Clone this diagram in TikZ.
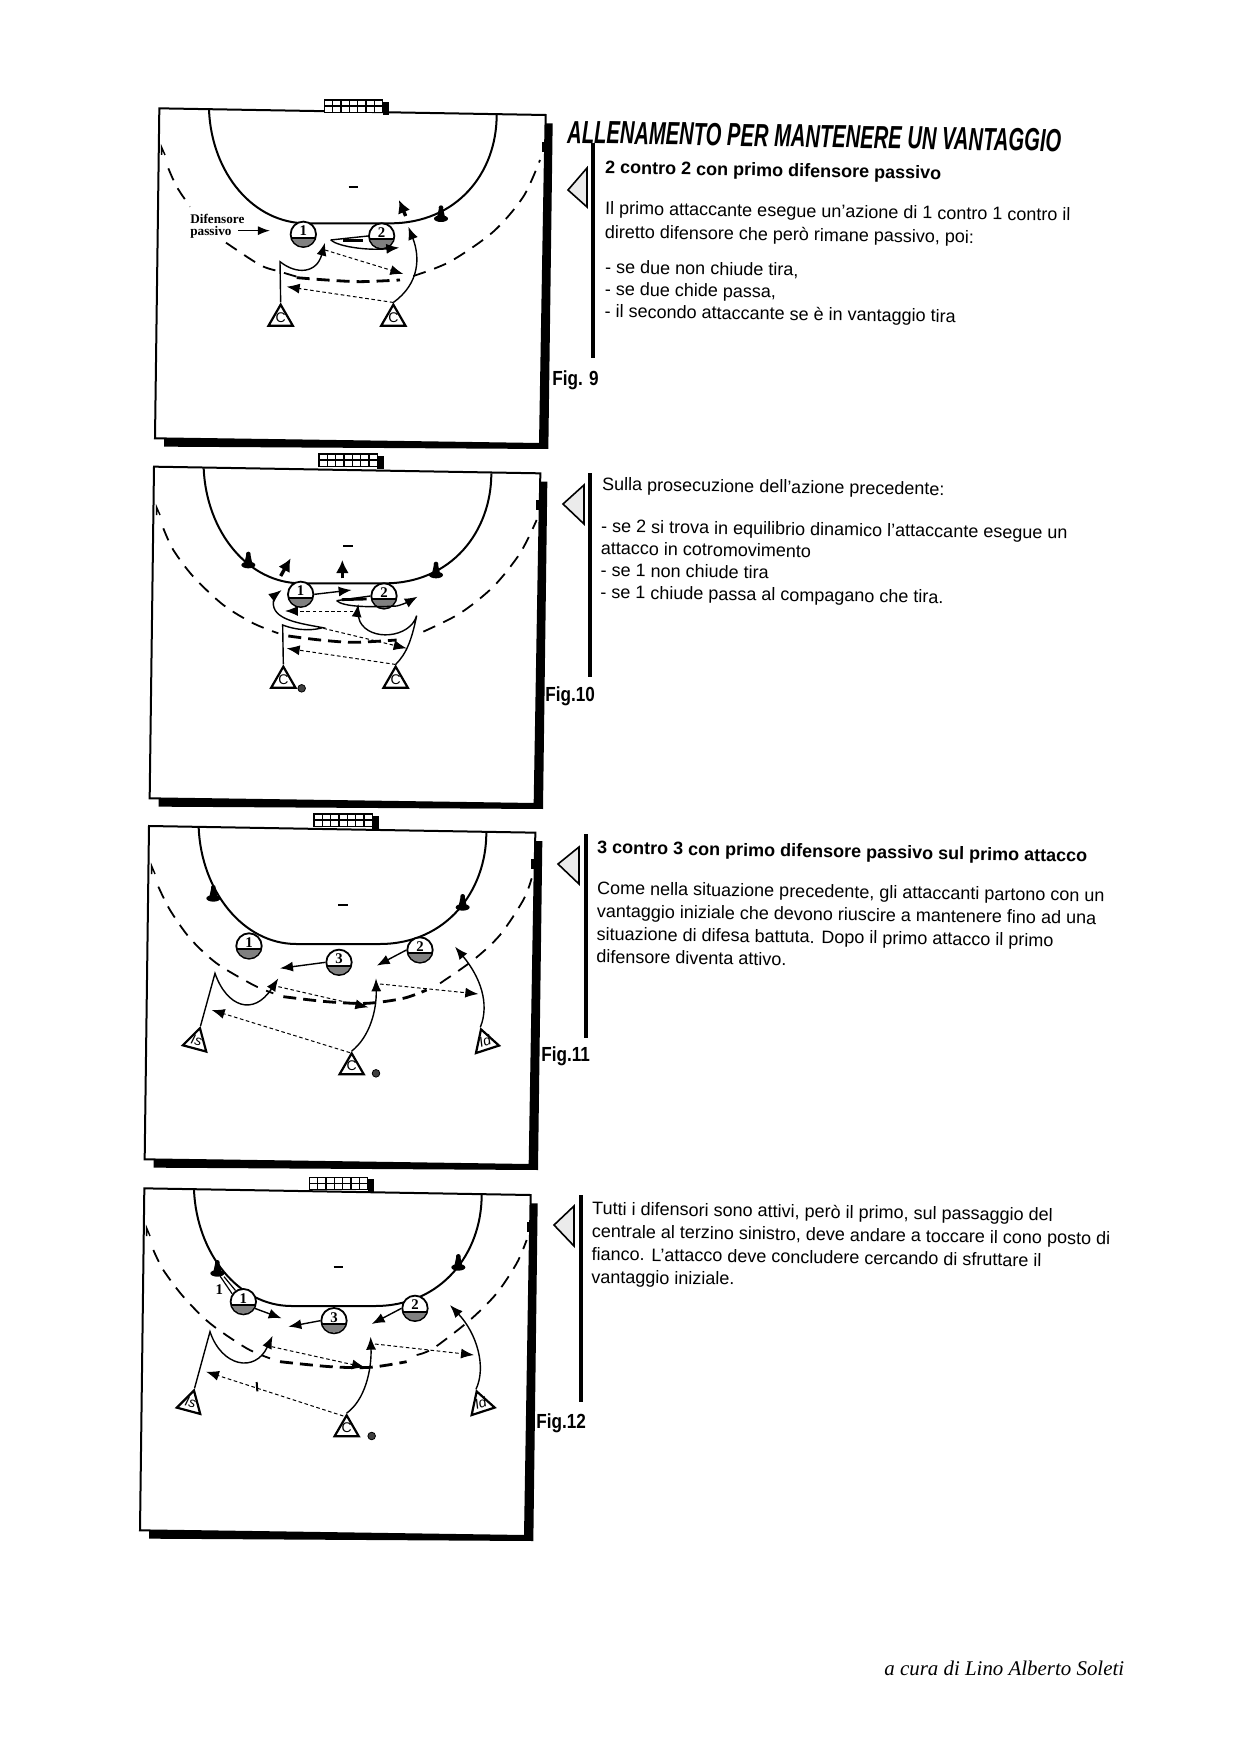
\documentclass[tikz,border=0pt]{standalone}
\usepackage{fontspec}
\setmainfont{Liberation Sans}
\newfontfamily\serifx{Liberation Serif}
\newfontfamily\titlefont[FakeStretch=0.63]{Liberation Sans}
\newfontfamily\figfont[FakeStretch=0.84]{Liberation Sans}
\usetikzlibrary{arrows.meta,shapes.geometric}
\tikzset{
  court/.style={draw=black,line width=1pt,fill=white},
  arcline/.style={draw=black,line width=1pt},
  arr/.style={-{Latex[length=6.5pt,width=5pt]},line width=.7pt},
  pass/.style={-{Latex[length=6.5pt,width=5pt]},line width=.5pt,dash pattern=on 1.8pt off 1.3pt},
  thickarr/.style={-{Latex[length=6.5pt,width=6.5pt]},line width=1.7pt},
  dashthin/.style={line width=.9pt,dash pattern=on 6.5pt off 4.5pt},
  dashthick/.style={line width=1.4pt,dash pattern=on 6.5pt off 3.5pt},
  playernode/.style={circle,draw=black,fill=white,line width=.9pt,minimum size=12.7pt,inner sep=0pt},
  playernum/.style={inner sep=0pt,font=\serifx\bfseries\fontsize{7.4}{7}\selectfont},
  tri/.style={regular polygon,regular polygon sides=3,draw=black,fill=white,line width=1.1pt,minimum size=14pt,inner sep=0pt,font=\fontsize{7}{7}\selectfont},
  body/.style={anchor=north west,inner sep=0pt,align=left,rotate=-.8,font=\fontsize{9}{11}\selectfont},
  bodywide/.style={anchor=north west,inner sep=0pt,align=left,rotate=-.8,font=\fontsize{9}{11.4}\selectfont},
  bodyb/.style={anchor=north west,inner sep=0pt,align=left,rotate=-1,font=\bfseries\fontsize{9}{11}\selectfont},
  figlab/.style={anchor=west,inner sep=0pt,font=\figfont\bfseries\fontsize{10.2}{11}\selectfont},
  ball/.style={circle,draw=black,fill=black!75,line width=.4pt,minimum size=3.8pt,inner sep=0pt},
  sidetri/.style={draw=black,line width=.8pt,fill=black!8},
  sideline/.style={draw=black,line width=1.6pt},
  figscope/.style={scale=1/3}
}
\newcommand{\tlabel}[1]{\makebox[0pt]{\raisebox{-3.4pt}{\smash{#1}}}}
\newcommand{\courtbase}[5]{% dx dy dh goaltop flaty
  \begin{scope}[shift={(#1,#2)}]
    \fill[black] (1217,100)--(1238,100)--(1225,{1077+#3})--(72,{1070+#3})--(72,{1045+#3})--cycle;
    \path[court] (58,55)--(1217,75)--(1200,{1062+#3})--(45,{1045+#3})--cycle;
    \fill[black] (1205,155) rectangle (1218,185);
    \fill[black] (728,{#4+6}) rectangle (748,{#4+46-6*0});
    \draw[line width=.8pt,fill=white] (553,#4) rectangle (728,{#4+37});
    \foreach \gx in {578,603,628,653,678,703} \draw[line width=.7pt] (\gx,#4)--(\gx,{#4+37});
    \draw[line width=.7pt] (553,{#4+18})--(728,{#4+18});
    \draw[arcline] (207,60) .. controls (215,250) and (340,#5) .. (500,#5) -- (750,#5) .. controls (950,#5) and (1070,250) .. (1070,75);
    \draw[line width=1.1pt] (626,292)--(655,292);
  \end{scope}
}
\newcommand{\player}[4]{%
  \node[playernode] (#1) at (#2,#3) {};
  \begin{scope}
    \clip ({#2-40},{#3+10}) rectangle ({#2+40},{#3+40});
    \fill[black!50] (#2,#3) circle[radius=36];
  \end{scope}
  \draw[line width=.9pt] ({#2-36},{#3+10})--({#2+36},{#3+10});
  \node[playernum] (#1n) at (#2,{#3-10}) {#4};
}
\newcommand{\conemark}[2]{%
  \fill[black] ({#1-6},{#2-32}) -- ({#1+6},{#2-32}) -- ({#1+13},{#2}) -- ({#1-13},{#2}) -- cycle;
  \fill[black] (#1,{#2-33}) circle[radius=7];
  \fill[black] (#1,#2) ellipse[x radius=21,y radius=10];
}
\begin{document}
\begin{tikzpicture}[x=.5pt,y=-.5pt]
\fill[white] (0,0) rectangle (1241,1755);
\useasboundingbox (0,0) rectangle (1241,1755);

% ---------- Figure 9
\begin{scope}[shift={(140,90)},figscope]
  \courtbase{0}{0}{0}{30}{400}
  \draw[dashthin] plot[smooth] coordinates {(85,235)(110,290)(150,350)};
  \draw[dashthin] plot[smooth] coordinates {(258,458)(360,525)(420,545)(470,560)};
  \draw[dashthick] plot[smooth] coordinates {(470,563)(560,570)(660,575)(780,570)};
  \draw[dashthin] plot[smooth] coordinates {(820,558)(930,515)(1060,425)(1150,320)(1200,210)};
  \draw[line width=.7pt] (65,195)--(65,172)--(75,195);
  \conemark{903}{386}
  \player{pa1}{490}{433}{1}
  \player{pa2}{725}{438}{2}
  \node[tri] (ca1) at (422,686) {\tlabel{C}};
  \node[tri] (ca2) at (760,686) {\tlabel{C}};
  \coordinate (a1) at (420,515);
  \coordinate (a2) at (555,458);
  \coordinate (a3) at (572,450);
  \coordinate (a4) at (778,473);
  \coordinate (a5) at (805,410);
  \coordinate (a6) at (790,552);
  \coordinate (a7) at (555,480);
  \coordinate (a8) at (440,590);
  \coordinate (a9) at (797,378);
  \coordinate (a10) at (777,330);
  \coordinate (a11) at (295,422);
  \coordinate (a12) at (390,422);
  \draw[arr] (ca1.corner 1) -- (a1) .. controls (470,555) and (530,550) .. (a2);
  \draw[line width=.7pt] (pa2.west) -- (a3);
  \draw[arr] (a3) .. controls (595,470) and (680,482) .. (a4);
  \draw[line width=1.4pt] (610,451)--(670,451);
  \draw[arr] (ca2.corner 1) .. controls (840,580) and (840,500) .. (a5);
  \draw[pass] (a7) -- (a6);
  \draw[pass] (ca2.corner 1) -- (a8);
  \draw[thickarr] (a9) -- (a10);
  \draw[line width=.7pt,-{Latex[length=6pt,width=4.5pt]}] (a11) -- (a12);
  \node[anchor=west,inner sep=0pt,align=left,font=\serifx\bfseries\fontsize{6.6}{6}\selectfont] (lab1) at (150,408) {Difensore\\[.1pt]passivo};
\end{scope}

% ---------- Figure 10
\begin{scope}[shift={(140,450)},figscope]
  \courtbase{-16}{-5}{5}{17}{405}
  \draw[dashthin] plot[smooth] coordinates {(70,235)(100,300)(160,380)(250,465)(340,520)(415,550)};
  \draw[dashthick] plot[smooth] coordinates {(445,558)(540,570)(640,577)(770,570)};
  \draw[dashthin] plot[smooth] coordinates {(850,545)(960,490)(1060,410)(1140,310)(1190,210)};
  \draw[line width=.7pt] (50,195)--(50,172)--(60,195);
  \conemark{325}{345}
  \conemark{888}{375}
  \player{pb1}{482}{433}{1}
  \player{pb2}{732}{438}{2}
  \node[tri] (cb1) at (430,692) {\tlabel{C}};
  \node[tri] (cb2) at (767,692) {\tlabel{C}};
  \node[ball] (bb) at (485,715) {};
  \coordinate (b1) at (428,525);
  \coordinate (b2) at (548,533);
  \coordinate (b3) at (425,420);
  \coordinate (b4) at (635,420);
  \coordinate (b5) at (590,452);
  \coordinate (b6) at (833,440);
  \coordinate (b7) at (830,497);
  \coordinate (b8) at (655,462);
  \coordinate (b9) at (640,483);
  \coordinate (b10) at (435,483);
  \coordinate (b11) at (550,535);
  \coordinate (b12) at (800,595);
  \coordinate (b13) at (440,595);
  \coordinate (b14) at (422,378);
  \coordinate (b15) at (452,325);
  \coordinate (b16) at (607,385);
  \coordinate (b17) at (607,330);
  \draw[arr] (cb1.corner 1) -- (b1) .. controls (480,545) and (525,540) .. (b2) .. controls (480,520) and (395,510) .. (400,455) .. controls (402,440) and (412,430) .. (b3);
  \draw[arr] (pb1.east) -- (b4);
  \draw[line width=.7pt] (pb2.west) -- (b5);
  \draw[arr] (b5) .. controls (610,472) and (700,472) .. (770,468) .. controls (795,462) and (815,450) .. (b6);
  \draw[line width=1.4pt] (605,449)--(680,447);
  \draw[arr] (cb2.corner 1) .. controls (800,610) and (815,570) .. (b7) .. controls (810,565) and (690,575) .. (660,515) .. controls (655,500) and (652,485) .. (b8);
  \draw[pass] (b9) -- (b10);
  \draw[pass] (b11) -- (b12);
  \draw[pass] (cb2.corner 1) -- (b13);
  \draw[thickarr] (b14) -- (b15);
  \draw[thickarr] (b16) -- (b17);
\end{scope}

% ---------- Figure 11
\begin{scope}[shift={(140,810)},figscope]
  \courtbase{-31}{-7}{10}{19}{409}
  \draw[dashthin] plot[smooth] coordinates {(55,230)(90,300)(150,385)(230,460)(340,525)(400,550)};
  \draw[dashthick] plot[smooth] coordinates {(430,560)(560,575)(680,580)(790,565)(860,540)};
  \draw[dashthin] plot[smooth] coordinates {(900,520)(1000,450)(1080,375)(1150,270)(1175,205)};
  \draw[line width=.7pt] (35,192)--(35,168)--(45,192);
  \conemark{220}{265}
  \conemark{968}{292}
  \player{pc1}{327}{408}{1}
  \player{pc3}{597}{457}{3}
  \player{pc2}{840}{420}{2}
  \node[tri,rotate=-15] (cc1) at (169,695) {\tlabel{\itshape Is}};
  \node[tri,rotate=18] (cc3) at (1036,698) {\tlabel{\itshape Id}};
  \node[tri] (cc2) at (635,772) {\tlabel{C}};
  \node[ball] (bc) at (708,790) {};
  \coordinate (c1) at (225,490);
  \coordinate (c2) at (415,505);
  \coordinate (c3) at (708,505);
  \coordinate (c4) at (945,410);
  \coordinate (c5) at (420,475);
  \coordinate (c6) at (710,467);
  \coordinate (c7) at (415,530);
  \coordinate (c8) at (685,592);
  \coordinate (c9) at (215,600);
  \coordinate (c10) at (720,522);
  \coordinate (c11) at (1015,552);
  \coordinate (c12) at (630,728);
  \draw[arr] (cc1.corner 1) -- (c1) .. controls (260,590) and (340,620) .. (c2);
  \draw[arr] (cc2.corner 1) .. controls (690,680) and (710,600) .. (c3);
  \draw[arr] (cc3.corner 1) .. controls (1050,580) and (1020,500) .. (c4);
  \draw[arr] (pc3.west) -- (c5);
  \draw[arr] (pc2.west) -- (c6);
  \draw[pass] (c7) -- (c8);
  \draw[pass] (c12) -- (c9);
  \draw[pass] (c10) -- (c11);
\end{scope}

% ---------- Figure 12
\begin{scope}[shift={(130,1170)},figscope]
  \courtbase{-15}{0}{36}{22}{408}
  \draw[dashthin] plot[smooth] coordinates {(70,240)(100,300)(160,380)(240,460)(350,535)(420,565)};
  \draw[dashthick] plot[smooth] coordinates {(450,575)(600,590)(720,592)(830,575)};
  \draw[dashthin] plot[smooth] coordinates {(860,555)(910,535)(1020,450)(1100,370)(1160,280)(1190,210)};
  \draw[line width=.7pt] (50,198)--(50,174)--(60,198);
  \conemark{262}{310}
  \conemark{985}{292}
  \player{pd1}{340}{395}{1}
  \player{pd3}{612}{452}{3}
  \player{pd2}{855}{415}{2}
  \node[tri,rotate=-15] (cd1) at (181,702) {\tlabel{\itshape Is}};
  \node[tri,rotate=18] (cd3) at (1053,704) {\tlabel{\itshape Id}};
  \node[tri] (cd2) at (650,778) {\tlabel{C}};
  \node[ball] (bd) at (725,798) {};
  \node[playernum] (one) at (268,358) {1};
  \coordinate (d1) at (240,485);
  \coordinate (d2) at (428,497);
  \coordinate (d3) at (722,500);
  \coordinate (d4) at (960,405);
  \coordinate (d5) at (455,445);
  \coordinate (d6) at (475,470);
  \coordinate (d7) at (725,462);
  \coordinate (d8) at (425,530);
  \coordinate (d9) at (705,592);
  \coordinate (d10) at (640,738);
  \coordinate (d11) at (228,605);
  \coordinate (d12) at (735,522);
  \coordinate (d13) at (1032,555);
  \coordinate (d14) at (270,318);
  \coordinate (d15) at (282,320);
  \draw[arr] (cd1.corner 1) -- (d1) .. controls (275,590) and (375,610) .. (d2);
  \draw[arr] (cd2.corner 1) .. controls (705,690) and (725,600) .. (d3);
  \draw[arr] (cd3.corner 1) .. controls (1070,590) and (1040,490) .. (d4);
  \draw[arr] (pd1.-30) -- (d5);
  \draw[arr] (pd3.west) -- (d6);
  \draw[arr] (pd2.west) -- (d7);
  \draw[pass] (d8) -- (d9);
  \draw[pass] (d10) -- (d11);
  \draw[pass] (d12) -- (d13);
  \draw[line width=.6pt] (d14) -- (pd1.145);
  \draw[line width=.6pt] (d15) -- (pd1.125);
  \draw[line width=1pt] (380,636)--(382,664);
\end{scope}

% ---------- Title and side text
\node[anchor=west,inner sep=0pt,rotate=-1,font=\titlefont\bfseries\itshape\fontsize{16}{16}\selectfont] (title) at (567,132) {ALLENAMENTO PER MANTENERE UN VANTAGGIO};

\path[sidetri] (568,190)--(587,168)--(587,207)--cycle;
\draw[sideline] (593,143)--(593,358);
\node[bodyb] (t1a) at (605,160) {2 contro 2 con primo difensore passivo};
\node[body] (t1b) at (605,201) {Il primo attaccante esegue un'azione di 1 contro 1 contro il\\[.8pt]diretto difensore che però rimane passivo, poi:};
\node[body] (t1c) at (605,260) {- se due non chiude tira,\\- se due chide passa,\\- il secondo attaccante se è in vantaggio tira};
\node[figlab] (f9) at (552,380) {Fig. 9};

\path[sidetri] (563,504)--(584,485)--(584,524)--cycle;
\draw[sideline] (590,473)--(590,677);
\node[body] (t2a) at (602,477) {Sulla prosecuzione dell'azione precedente:};
\node[body] (t2b) at (601,519) {- se 2 si trova in equilibrio dinamico l'attaccante esegue un\\attacco in cotromovimento\\- se 1 non chiude tira\\- se 1 chiude passa al compagano che tira.};
\node[figlab] (f10) at (545,696) {Fig.10};

\path[sidetri] (558,864)--(579,847)--(579,884)--cycle;
\draw[sideline] (586,834)--(586,1038);
\node[bodyb] (t3a) at (597,840) {3 contro 3 con primo difensore passivo sul primo attacco};
\node[bodywide] (t3b) at (597,881) {Come nella situazione precedente, gli attaccanti partono con un\\vantaggio iniziale che devono riuscire a mantenere fino ad una\\situazione di difesa battuta. Dopo il primo attacco il primo\\difensore diventa attivo.};
\node[figlab] (f11) at (541,1056) {Fig.11};

\path[sidetri] (554,1225)--(574,1206)--(574,1246)--cycle;
\draw[sideline] (581,1195)--(581,1402);
\node[bodywide] (t4a) at (592,1201) {Tutti i difensori sono attivi, però il primo, sul passaggio del\\centrale al terzino sinistro, deve andare a toccare il cono posto di\\fianco. L'attacco deve concludere cercando di sfruttare il\\vantaggio iniziale.};
\node[figlab] (f12) at (536,1423) {Fig.12};

\node[anchor=west,inner sep=0pt,font=\serifx\itshape\fontsize{10.45}{12}\selectfont] (foot) at (884,1668) {a cura di Lino Alberto Soleti};
\end{tikzpicture}
\end{document}
